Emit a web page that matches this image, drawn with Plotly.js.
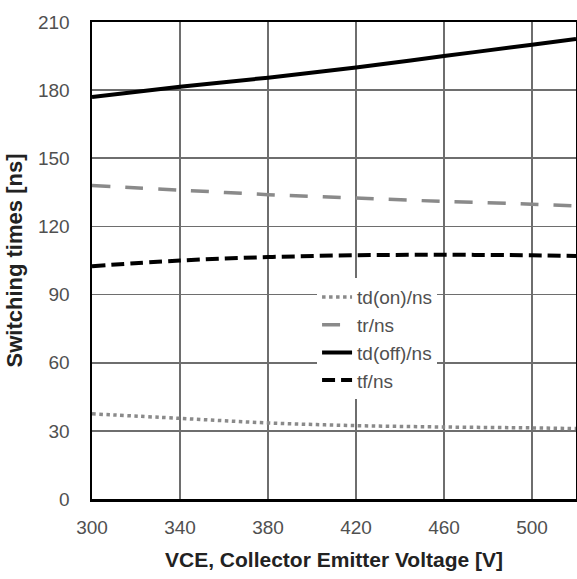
<!DOCTYPE html>
<html>
<head>
<meta charset="utf-8">
<script src="https://cdn.plot.ly/plotly-3.0.1.min.js"></script>
<style>html,body{margin:0;padding:0;background:#fff;}#chart{width:577px;height:579px;}</style>
</head>
<body>
<div id="chart"></div>
<script>
const vce = [300, 340, 380, 420, 460, 500, 520];
const tdOn = [37.5, 35.5, 33.5, 32.3, 31.7, 31.3, 31];
const tr = [138, 136, 134, 132.5, 131, 129.8, 129];
const tdOff = [177, 181.5, 185.5, 190, 195, 200, 202.5];
const tf = [102.5, 105, 106.5, 107.3, 107.5, 107.3, 107];
const seriesNames = ["td(on)/ns", "tr/ns", "td(off)/ns", "tf/ns"];
const xTicks = [300, 340, 380, 420, 460, 500];
const yTicks = [0, 30, 60, 90, 120, 150, 180, 210];

const traces = [
  {x: vce, y: tdOn, name: seriesNames[0], mode: "lines", line: {color: "#8a8a8a", width: 3.5, dash: "dot", shape: "spline"}},
  {x: vce, y: tr, name: seriesNames[1], mode: "lines", line: {color: "#8a8a8a", width: 3.5, dash: "18px,15px", shape: "spline"}},
  {x: vce, y: tdOff, name: seriesNames[2], mode: "lines", line: {color: "#000", width: 4, shape: "spline"}},
  {x: vce, y: tf, name: seriesNames[3], mode: "lines", line: {color: "#000", width: 4, dash: "13px,6px", shape: "spline"}}
];

const layout = {
  width: 577, height: 579,
  margin: {l: 92, r: 1, t: 22, b: 80},
  paper_bgcolor: "#fff", plot_bgcolor: "#fff",
  font: {family: "Liberation Sans, Arial, sans-serif", color: "#505050", size: 19},
  showlegend: true,
  legend: {x: 0.465, y: 0.463, xanchor: "left", yanchor: "top", bgcolor: "#fff",
           font: {size: 19, color: "#505050"}, tracegroupgap: 0},
  xaxis: {range: [300, 520], tickvals: xTicks, ticktext: xTicks.map(String),
          showgrid: true, gridcolor: "#6e6e6e", gridwidth: 1.8,
          showline: true, linecolor: "#000", linewidth: 2.5, mirror: true,
          ticks: "", zeroline: false, ticklabelstandoff: 10,
          title: {text: "<b>VCE, Collector Emitter Voltage [V]</b>", font: {size: 21, color: "#222"}, standoff: 15}},
  yaxis: {range: [0, 210], tickvals: yTicks, ticktext: yTicks.map(String),
          showgrid: true, gridcolor: "#6e6e6e", gridwidth: 1.8,
          showline: true, linecolor: "#000", linewidth: 2.5, mirror: true,
          ticks: "", zeroline: false, ticklabelstandoff: 16,
          title: {text: "<b>Switching times [ns]</b>", font: {size: 22, color: "#222"}, standoff: 10}}
};

Plotly.newPlot("chart", traces, layout, {displayModeBar: false, staticPlot: true});
</script>
</body>
</html>
